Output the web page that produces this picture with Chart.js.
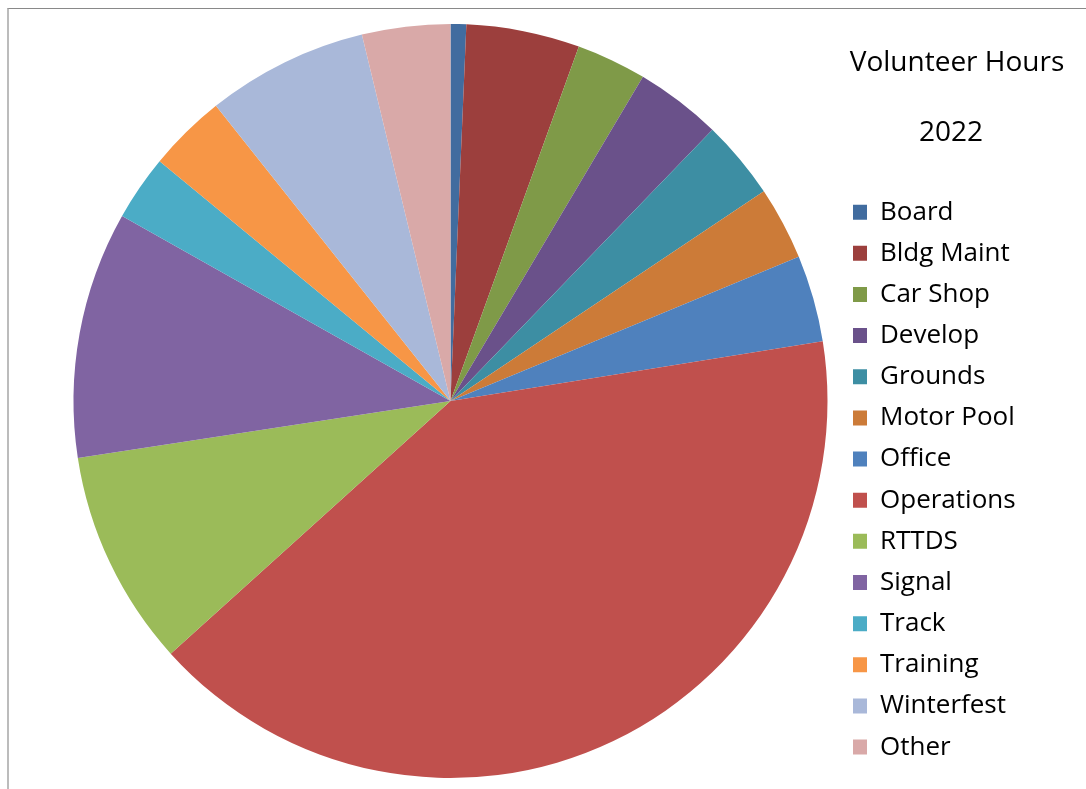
<!DOCTYPE html>
<html>
<head>
<meta charset="utf-8">
<script src="https://cdn.jsdelivr.net/npm/chart.js@4"></script>
<style>
    html, body { margin: 0; padding: 0; background: #fff; }
    #wrap { position: relative; width: 1086px; height: 789px; }
    #frame {
        position: absolute; left: 7px; top: 8px; right: -2px; bottom: -2px;
        border-top: 1px solid #898989; border-left: 2px solid #bcbcbc;
    }
    canvas { position: absolute; left: 0; top: 0; }
</style>
</head>
<body>
<div id="wrap">
    <div id="frame"></div>
    <canvas id="pieChart" width="1086" height="789"></canvas>
</div>
<script>
// Volunteer hours by area, 2022
const categories = ['Board', 'Bldg Maint', 'Car Shop', 'Develop', 'Grounds', 'Motor Pool', 'Office',
    'Operations', 'RTTDS', 'Signal', 'Track', 'Training', 'Winterfest', 'Other'];
const hours = [49, 355, 219, 270, 248, 229, 272, 2984, 678, 773, 205, 244, 505, 276];
const sliceColors = ['#416c9f', '#9c3f3d', '#7f9a48', '#6a518a', '#3d8ea3', '#cc7b38', '#4f81bd',
    '#c0504d', '#9bbb59', '#8064a2', '#4bacc6', '#f79646', '#a9b8d9', '#d9a9a8'];
const titleLines = ['Volunteer Hours', '2022'];

const fontFamily = "'Open Sans', Lato, sans-serif";
const labelSize = 26;
const labelPad = 15.15;
const boxSize = 14;

// where the legend boxes start and where the pie is centred
const boxLeft = 853;
const pieCenterX = 450.5;
const legendLeft = boxLeft - labelPad;

// legend width, so the chart area ends up where the pie should be
const measure = document.createElement('canvas').getContext('2d');
measure.font = labelSize + 'px ' + fontFamily;
const longest = Math.max(...categories.map(c => measure.measureText(c).width));
const legendWidth = labelPad + boxSize + labelSize / 2 + longest + 10;

// two-line heading above the legend
const headingX = [957, 951];
const headingPlugin = {
    id: 'heading',
    afterDraw(chart) {
        const ctx = chart.ctx;
        ctx.save();
        ctx.font = '28px ' + fontFamily;
        ctx.fillStyle = '#000';
        ctx.textAlign = 'center';
        ctx.textBaseline = 'alphabetic';
        titleLines.forEach((line, i) => ctx.fillText(line, headingX[i], 71 + i * 70));
        ctx.restore();
    }
};

new Chart(document.getElementById('pieChart'), {
    type: 'pie',
    data: {
        labels: categories,
        datasets: [{
            data: hours,
            backgroundColor: sliceColors,
            borderWidth: 0
        }]
    },
    options: {
        responsive: false,
        animation: false,
        devicePixelRatio: 1,
        layout: {
            padding: {
                top: 24,
                bottom: 11,
                left: pieCenterX * 2 - legendLeft,
                right: 1086 - legendLeft - legendWidth
            }
        },
        plugins: {
            tooltip: { enabled: false },
            legend: {
                position: 'right',
                align: 'start',
                // room for the heading; the text itself is drawn by headingPlugin
                title: {
                    display: true,
                    text: '',
                    padding: { top: 0, bottom: 160 - 14.4 },
                    font: { family: fontFamily, size: 12 }
                },
                labels: {
                    color: '#000',
                    boxWidth: boxSize,
                    boxHeight: 15,
                    padding: labelPad,
                    font: { family: fontFamily, size: labelSize }
                }
            }
        }
    },
    plugins: [headingPlugin]
});
</script>
</body>
</html>
